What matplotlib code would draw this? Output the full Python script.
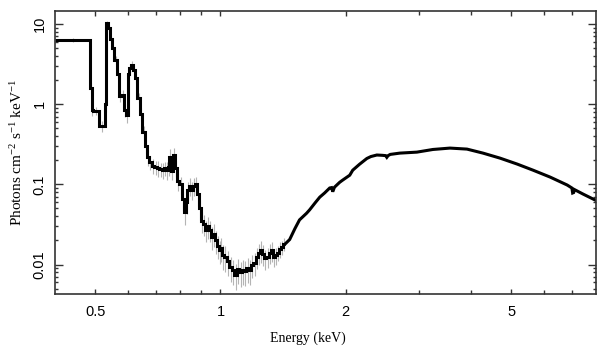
import numpy as np
import matplotlib
matplotlib.use("Agg")
import matplotlib.pyplot as plt
from matplotlib.ticker import FixedLocator, FixedFormatter, NullFormatter, LogLocator

plt.rcParams["mathtext.fontset"] = "custom"
plt.rcParams["mathtext.rm"] = "Liberation Serif"
plt.rcParams["mathtext.it"] = "Liberation Serif:italic"

# low-energy part: bin edges (keV) and unfolded flux (photons cm^-2 s^-1 keV^-1)
edges_lo = [
    0.400, 0.486, 0.490, 0.493, 0.511, 0.528, 0.531, 0.536, 0.543, 0.549,
    0.556, 0.563, 0.571, 0.578, 0.586, 0.594, 0.598, 0.604, 0.610, 0.616,
    0.623, 0.631, 0.640, 0.649, 0.657, 0.665, 0.674, 0.683, 0.693, 0.703,
    0.713, 0.722, 0.730, 0.738, 0.746, 0.754, 0.762, 0.770, 0.778, 0.786,
    0.797, 0.808, 0.819, 0.826, 0.833, 0.840, 0.850, 0.860, 0.870, 0.880,
    0.890, 0.900, 0.910, 0.920, 0.930, 0.940, 0.950, 0.960, 0.970, 0.980,
    0.990, 1.000, 1.010, 1.020, 1.035, 1.050, 1.065, 1.080, 1.095, 1.110,
    1.125, 1.140, 1.155, 1.170, 1.185, 1.200, 1.215, 1.230, 1.245, 1.260,
    1.275, 1.290, 1.305, 1.320, 1.335, 1.350, 1.365, 1.380, 1.395, 1.410,
    1.430,
]

flux_lo = [
    6.3, 1.6, 0.84, 0.82, 0.53, 1.0, 10.2, 9.0, 6.5, 5.0,
    3.6, 2.4, 1.25, 1.3, 0.85, 0.73, 2.4, 2.8, 3.1, 2.7,
    2.1, 1.2, 0.75, 0.45, 0.30, 0.22, 0.19, 0.17, 0.165, 0.16,
    0.155, 0.15, 0.16, 0.15, 0.165, 0.22, 0.145, 0.23, 0.16, 0.11,
    0.10, 0.065, 0.045, 0.06, 0.085, 0.095, 0.085, 0.095, 0.10, 0.075,
    0.050, 0.035, 0.032, 0.027, 0.030, 0.027, 0.022, 0.024, 0.020, 0.017,
    0.015, 0.016, 0.013, 0.0125, 0.011, 0.0093, 0.0085, 0.0075, 0.0088, 0.0080,
    0.0085, 0.0082, 0.0090, 0.0085, 0.0100, 0.0105, 0.0125, 0.0140, 0.0150, 0.0135,
    0.0120, 0.0125, 0.0140, 0.0150, 0.0125, 0.0130, 0.0140, 0.0155, 0.0165, 0.0180,
]

# fractional 1-sigma errors per low-energy bin
frac_err_lo = [
    0.05, 0.15, 0.15, 0.12, 0.15, 0.20, 0.08, 0.08, 0.10, 0.10,
    0.12, 0.12, 0.15, 0.15, 0.18, 0.20, 0.12, 0.10, 0.10, 0.10,
    0.12, 0.15, 0.18, 0.20, 0.20, 0.22, 0.20, 0.22, 0.20, 0.22,
    0.20, 0.22, 0.20, 0.25, 0.22, 0.25, 0.22, 0.25, 0.22, 0.25,
    0.25, 0.28, 0.30, 0.28, 0.25, 0.25, 0.25, 0.25, 0.25, 0.28,
    0.28, 0.30, 0.30, 0.30, 0.30, 0.30, 0.32, 0.32, 0.32, 0.32,
    0.32, 0.32, 0.35, 0.35, 0.35, 0.35, 0.35, 0.35, 0.35, 0.35,
    0.35, 0.35, 0.35, 0.35, 0.32, 0.32, 0.30, 0.30, 0.30, 0.30,
    0.28, 0.28, 0.28, 0.28, 0.25, 0.25, 0.22, 0.22, 0.20, 0.18,
]

# high-energy part: finely binned, drawn as a continuous trace
energy_hi = [
    1.430, 1.467, 1.510, 1.549, 1.611, 1.638, 1.690, 1.733, 1.780, 1.831,
    1.850, 1.862, 1.880, 1.935, 1.968, 2.046, 2.080, 2.160, 2.249, 2.300,
    2.377, 2.450, 2.495, 2.512, 2.530, 2.560, 2.700, 2.967, 3.243, 3.563,
    3.915, 4.279, 4.703, 5.168, 5.647, 6.207, 6.820, 7.000, 7.030, 7.070,
    7.100, 7.450, 7.970, 8.000,
]
flux_hi = [
    0.0180, 0.0205, 0.0280, 0.0360, 0.0436, 0.0480, 0.0590, 0.0692, 0.0780, 0.0900,
    0.0910, 0.0810, 0.0920, 0.1060, 0.1130, 0.1300, 0.1500, 0.1780, 0.2100, 0.2220,
    0.2320, 0.2300, 0.2280, 0.2170, 0.2280, 0.2360, 0.2450, 0.2520, 0.2720, 0.2830,
    0.2750, 0.2450, 0.2120, 0.1790, 0.1500, 0.1230, 0.0980, 0.0900, 0.0780, 0.0790,
    0.0860, 0.0755, 0.0635, 0.0630,
]

assert len(edges_lo) == len(flux_lo) + 1
assert len(frac_err_lo) == len(flux_lo)
assert len(energy_hi) == len(flux_hi)

x_major = [0.5, 1, 2, 5]
x_minor = [0.6, 0.7, 0.8, 0.9, 3, 4, 6, 7]
y_major = [0.01, 0.1, 1, 10]
y_labels = ["0.01", "0.1", "1", "10"]

e = np.array(edges_lo)
f = np.array(flux_lo)
centers = np.sqrt(e[:-1] * e[1:])
err = f * np.array(frac_err_lo)

fig = plt.figure(figsize=(6.09, 3.57), dpi=100)
ax = fig.add_axes([55 / 609, 1 - 293.5 / 357, 541 / 609, 282.5 / 357])

ax.errorbar(centers, f, yerr=err, fmt="none", ecolor="#b4b4b4", elinewidth=0.8, zorder=1)
ax.stairs(f, e, color="black", linewidth=2.2, baseline=None, zorder=2)
ax.plot(energy_hi, flux_hi, color="black", linewidth=2.2, solid_joinstyle="miter", zorder=2)

ax.set_xscale("log")
ax.set_yscale("log")
ax.set_xlim(0.4, 8.0)
ax.set_ylim(0.00435, 14.5)

ax.xaxis.set_major_locator(FixedLocator(x_major))
ax.xaxis.set_major_formatter(FixedFormatter([str(v) for v in x_major]))
ax.xaxis.set_minor_locator(FixedLocator(x_minor))
ax.xaxis.set_minor_formatter(NullFormatter())
ax.yaxis.set_major_locator(FixedLocator(y_major))
ax.yaxis.set_major_formatter(FixedFormatter(y_labels))
ax.yaxis.set_minor_locator(LogLocator(base=10, subs=np.arange(2, 10)))
ax.yaxis.set_minor_formatter(NullFormatter())

for s in ax.spines.values():
    s.set_color("#333333")
    s.set_linewidth(1.2)

ax.tick_params(which="both", direction="in", top=True, right=True, color="#333333", width=1.0)
ax.tick_params(axis="x", which="major", length=3.5, pad=8)
ax.tick_params(axis="x", which="minor", length=3.0)
ax.tick_params(axis="y", which="major", length=5.5, pad=6)
ax.tick_params(axis="y", which="minor", length=2.5)
for lab in ax.get_xticklabels() + ax.get_yticklabels():
    lab.set_fontfamily("Liberation Sans")
    lab.set_fontsize(10.5)
for lab in ax.get_yticklabels():
    lab.set_rotation(90)
    lab.set_verticalalignment("center")

fig.text(308 / 609, 1 - 338 / 357, "Energy (keV)", ha="center", va="center",
         family="Liberation Serif", fontsize=10)
fig.text(17 / 609, 1 - 152 / 357, r"Photons cm$^{-2}$ s$^{-1}$ keV$^{-1}$", ha="center",
         va="center", rotation=90, family="Liberation Serif", fontsize=11)

fig.savefig("out.png", dpi=100)
